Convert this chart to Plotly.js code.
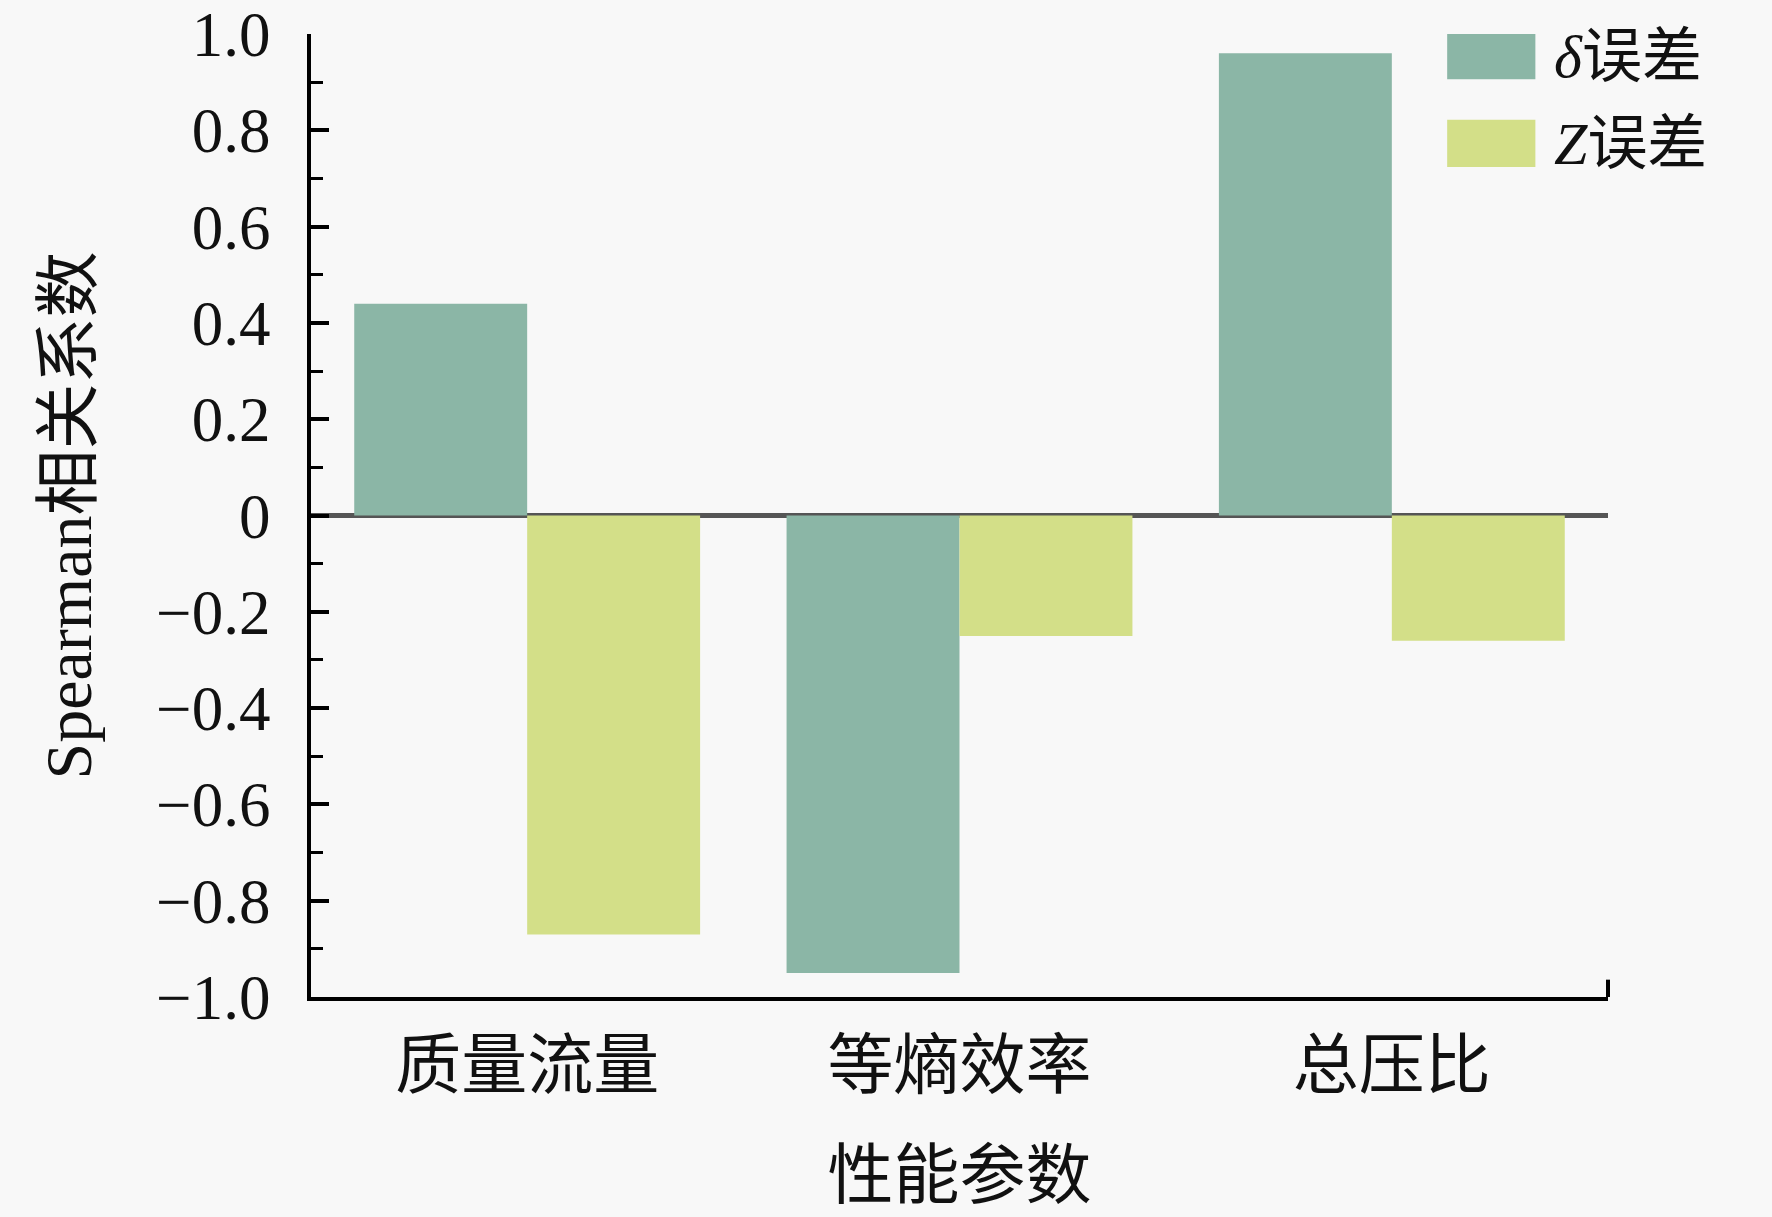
<!DOCTYPE html>
<html>
<head>
<meta charset="utf-8">
<script src="https://cdn.plot.ly/plotly-3.0.1.min.js"></script>
<style>
  html, body { margin: 0; padding: 0; background: #f8f8f8; }
  #chart { width: 1772px; height: 1217px; }
</style>
</head>
<body>
<div id="chart"></div>
<script>
(function () {
    'use strict';

    // data
    const categories = ['质量流量', '等熵效率', '总压比'];
    const seriesNames = ['<i>δ</i>误差', '<i>Z</i>误差'];
    const deltaErr = [0.44, -0.95, 0.96];
    const zErr = [-0.87, -0.25, -0.26];
    const yTickVals = [1.0, 0.8, 0.6, 0.4, 0.2, 0, -0.2, -0.4, -0.6, -0.8, -1.0];
    const yTickText = ['1.0', '0.8', '0.6', '0.4', '0.2', '0', '\u22120.2', '\u22120.4', '\u22120.6', '\u22120.8', '\u22121.0'];

    const colors = ['#8bb6a6', '#d3df88'];
    const serif = '"Liberation Serif", "Times New Roman", "Noto Sans CJK SC", serif';

    const traces = [deltaErr, zErr].map(function (vals, i) {
        return {
            type: 'bar',
            name: seriesNames[i],
            x: categories,
            y: vals,
            marker: { color: colors[i], line: { width: 0 } },
            showlegend: false
        };
    });

    // hand-made legend with big swatches, like the original
    const legendShapes = [];
    const legendNotes = [];
    const legendY = [[1.0, 0.953, 0.976], [0.911, 0.862, 0.886]];
    seriesNames.forEach(function (nm, i) {
        legendShapes.push({
            type: 'rect', xref: 'paper', yref: 'paper',
            x0: 0.876, x1: 0.944, y0: legendY[i][1], y1: legendY[i][0],
            fillcolor: colors[i], line: { width: 0 }
        });
        legendNotes.push({
            xref: 'paper', yref: 'paper', x: 0.957, y: legendY[i][2],
            xanchor: 'left', yanchor: 'middle', showarrow: false,
            text: nm, font: { family: serif, size: 60, color: '#111' }
        });
    });
    // small end tick at the right of the x axis
    legendShapes.push({
        type: 'line', xref: 'paper', yref: 'paper',
        x0: 1, x1: 1, y0: 0, y1: 0.018,
        line: { color: '#000', width: 4 }
    });

    const layout = {
        width: 1772,
        height: 1217,
        margin: { l: 311, r: 164, t: 34, b: 220 },
        paper_bgcolor: '#f8f8f8',
        plot_bgcolor: '#f8f8f8',
        font: { family: serif, color: '#111' },
        barmode: 'group',
        bargap: 0.2,
        bargroupgap: 0,
        xaxis: {
            type: 'category',
            range: [-0.5, 2.5],
            showline: true,
            linecolor: '#000',
            linewidth: 4,
            ticks: '',
            showgrid: false,
            zeroline: false,
            tickfont: { family: serif, size: 66, color: '#111' },
            ticklabelstandoff: 8,
            title: { text: '性能参数', font: { family: serif, size: 66, color: '#111' }, standoff: 52 }
        },
        yaxis: {
            range: [-1, 1],
            showline: true,
            linecolor: '#000',
            linewidth: 4,
            showgrid: false,
            zeroline: true,
            zerolinecolor: '#555',
            zerolinewidth: 5,
            ticks: 'inside',
            ticklen: 18,
            tickwidth: 4,
            tickcolor: '#000',
            tickvals: yTickVals,
            ticktext: yTickText,
            ticklabeloverflow: 'allow',
            minor: { dtick: 0.1, ticks: 'inside', ticklen: 12, tickwidth: 3, tickcolor: '#000' },
            tickfont: { family: serif, size: 63, color: '#111' },
            ticklabelstandoff: 24,
            title: { text: 'Spearman相关系数', font: { family: serif, size: 66, color: '#111' }, standoff: 44 }
        },
        shapes: legendShapes,
        annotations: legendNotes
    };

    Plotly.newPlot('chart', traces, layout, { displayModeBar: false, staticPlot: true });
}());
</script>
</body>
</html>
